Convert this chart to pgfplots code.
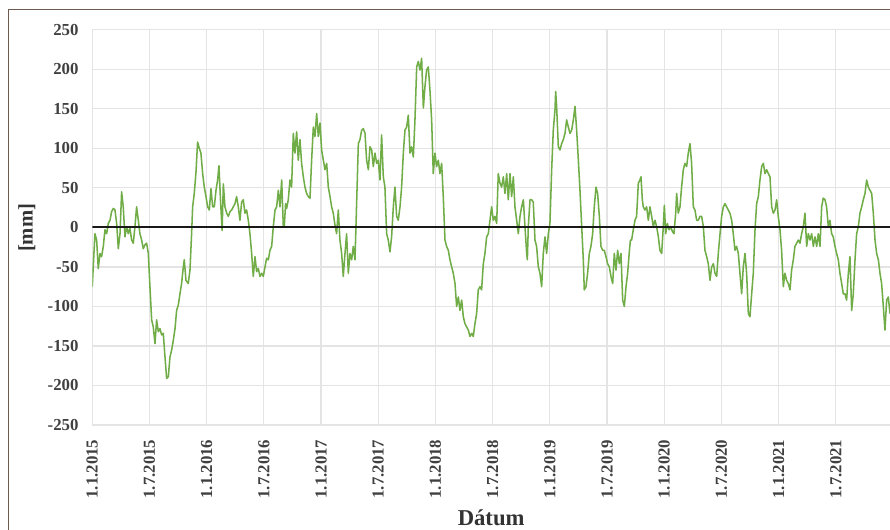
\documentclass[border=0pt]{standalone}
\usepackage{pgfplots}
\pgfplotsset{compat=1.18}
\usepackage{pgfplotstable}
\usepackage{fontspec}
\setmainfont{Liberation Serif}
\definecolor{lgreen}{HTML}{70AD47}
\definecolor{gridc}{HTML}{E4E4E4}
\definecolor{framec}{HTML}{6E5A4E}
\pgfplotstableread{
m v
0.00 -75
0.28 -8
0.46 -16
0.63 -52
0.81 -33
0.98 -37
1.16 -24
1.33 -3
1.51 -8
1.68 5
1.86 9
2.03 20
2.21 24
2.38 22
2.56 5
2.73 -27
2.91 -8
3.08 45
3.25 26
3.43 -12
3.60 1
3.78 -8
3.95 -1
4.13 -16
4.30 -20
4.48 1
4.65 26
4.83 9
5.00 -8
5.18 -16
5.35 -27
5.53 -22
5.70 -20
5.88 -33
6.05 -75
6.23 -117
6.40 -126
6.58 -147
6.75 -117
6.93 -132
7.10 -128
7.28 -136
7.45 -134
7.63 -164
7.80 -191
7.98 -189
8.15 -164
8.33 -155
8.50 -143
8.68 -128
8.85 -105
9.03 -98
9.20 -84
9.37 -71
9.55 -50
9.65 -41
9.83 -67
10.07 -71
10.25 -54
10.42 -8
10.53 26
10.70 43
10.88 70
11.05 108
11.23 100
11.40 94
11.58 68
11.75 51
11.93 39
12.10 26
12.28 22
12.45 49
12.63 26
12.80 26
12.98 47
13.15 60
13.29 78
13.45 35
13.62 -4
13.75 55
13.92 26
14.10 18
14.27 14
14.45 20
14.62 22
14.79 26
14.97 30
15.14 39
15.32 26
15.49 9
15.67 32
15.84 35
16.02 18
16.19 22
16.37 9
16.54 -8
16.72 -33
16.89 -62
17.07 -37
17.24 -56
17.42 -52
17.59 -62
17.77 -58
17.94 -62
18.12 -50
18.29 -39
18.47 -41
18.64 -29
18.82 -24
18.99 1
19.17 22
19.34 26
19.52 47
19.69 26
19.87 60
20.04 1
20.14 1
20.28 30
20.39 24
20.56 35
20.74 60
20.91 51
21.09 119
21.26 94
21.44 121
21.61 85
21.79 111
21.96 81
22.14 64
22.31 51
22.49 43
22.66 39
22.84 37
23.01 85
23.19 127
23.36 115
23.54 144
23.71 115
23.89 132
24.06 98
24.24 85
24.41 73
24.59 81
24.76 51
24.94 39
25.11 26
25.28 18
25.46 3
25.63 -8
25.81 22
25.98 -16
26.16 -33
26.33 -62
26.51 -33
26.68 -8
26.86 -58
27.03 -33
27.21 -41
27.38 -24
27.56 -41
27.73 30
27.91 106
28.08 111
28.26 123
28.43 125
28.61 119
28.78 85
28.96 73
29.13 102
29.31 98
29.48 77
29.66 94
29.83 81
30.00 85
30.18 60
30.35 117
30.53 64
30.70 51
30.88 -8
31.05 -16
31.23 -31
31.40 -12
31.58 26
31.75 51
31.93 14
32.10 9
32.28 26
32.45 51
32.63 94
32.80 123
32.98 127
33.15 142
33.33 94
33.50 102
33.68 89
33.85 136
34.03 203
34.20 210
34.38 199
34.55 214
34.73 151
34.90 178
35.07 199
35.25 203
35.42 174
35.60 136
35.77 68
35.95 94
36.12 77
36.30 85
36.47 68
36.65 81
36.82 39
37.00 -16
37.17 -24
37.35 -29
37.52 -41
37.70 -50
37.87 -58
38.05 -71
38.22 -100
38.40 -88
38.57 -105
38.75 -92
38.92 -113
39.10 -122
39.45 -130
39.62 -138
39.80 -134
39.97 -138
40.14 -122
40.32 -109
40.49 -79
40.67 -75
40.84 -79
41.02 -46
41.19 -33
41.37 -12
41.54 -8
41.72 9
41.89 26
42.07 9
42.24 14
42.42 5
42.59 68
42.77 56
42.94 51
43.12 64
43.29 43
43.47 68
43.64 35
43.82 68
43.99 39
44.17 64
44.34 26
44.52 9
44.69 -8
44.87 14
45.04 26
45.22 35
45.39 1
45.57 -33
45.64 -41
45.74 1
45.92 35
46.09 35
46.26 32
46.44 -16
46.61 -24
46.79 -50
46.96 -58
47.14 -75
47.31 -33
47.49 -12
47.66 -33
47.84 -8
48.01 5
48.19 73
48.36 123
48.54 149
48.61 172
48.71 153
48.89 102
49.06 98
49.24 106
49.41 111
49.59 119
49.76 136
49.94 127
50.11 119
50.29 123
50.46 136
50.64 153
50.81 123
50.99 85
51.16 47
51.34 1
51.51 -41
51.61 -79
51.79 -75
51.96 -58
52.14 -33
52.31 -24
52.49 -8
52.66 26
52.84 51
53.01 43
53.19 14
53.36 -24
53.54 -29
53.71 -29
53.89 -37
54.06 -46
54.24 -50
54.41 -62
54.59 -71
54.76 -33
54.94 -54
55.11 -29
55.29 -46
55.46 -33
55.64 -92
55.81 -100
55.99 -75
56.16 -58
56.34 -30
56.45 -16
56.58 -16
56.75 -3
56.93 9
57.10 14
57.28 56
57.45 60
57.56 64
57.70 35
57.80 26
57.98 22
58.15 26
58.33 9
58.50 26
58.68 14
58.85 1
59.03 9
59.20 1
59.38 -12
59.55 -29
59.73 -33
59.90 1
60.01 28
60.15 -8
60.32 5
60.50 -3
60.67 1
60.85 -5
61.02 -8
61.20 18
61.30 43
61.47 18
61.65 26
61.82 51
62.00 73
62.17 81
62.35 77
62.52 94
62.70 106
62.87 81
63.05 26
63.22 22
63.40 9
63.57 9
63.75 14
63.92 14
64.10 1
64.27 -29
64.45 -37
64.62 -46
64.80 -67
64.97 -50
65.15 -46
65.32 -58
65.50 -62
65.67 -33
65.85 -8
66.02 14
66.20 26
66.37 30
66.54 26
66.72 22
66.89 18
67.07 9
67.24 -8
67.42 -29
67.59 -24
67.77 -33
67.94 -58
68.12 -84
68.29 -50
68.47 -33
68.64 -58
68.82 -109
68.99 -113
69.17 -84
69.34 -58
69.52 -3
69.69 30
69.87 39
70.04 60
70.22 77
70.39 81
70.57 68
70.74 73
70.92 68
71.09 64
71.27 26
71.44 18
71.62 22
71.79 35
71.96 14
72.14 -3
72.31 -29
72.49 -75
72.66 -58
72.84 -67
73.01 -71
73.19 -79
73.36 -54
73.54 -41
73.71 -24
73.89 -20
74.06 -16
74.24 -20
74.41 -8
74.59 1
74.76 18
74.94 -24
75.11 -8
75.29 -16
75.46 -8
75.64 -24
75.81 -12
75.99 -24
76.16 -8
76.34 -24
76.51 26
76.68 37
76.86 35
77.03 26
77.21 1
77.38 9
77.56 -8
77.73 -12
77.91 -24
78.08 -33
78.26 -41
78.43 -58
78.61 -71
78.78 -84
78.96 -84
79.13 -92
79.31 -58
79.48 -37
79.66 -105
79.83 -84
80.01 -41
80.18 -8
80.36 1
80.53 18
80.71 26
80.88 35
81.06 43
81.23 60
81.41 51
81.58 47
81.76 43
81.93 18
82.11 -16
82.28 -33
82.46 -41
82.63 -58
82.80 -71
82.98 -100
83.15 -130
83.33 -92
83.50 -88
83.68 -109
}\datatable
\begin{document}
\begin{tikzpicture}
\path[use as bounding box] (0,0) rectangle (667.5pt,397.5pt);
\fill[white] (0,0) rectangle (667.5pt,397.5pt);
\draw[framec, line width=1.1pt] (6.2pt,-2pt) -- (6.2pt,390.2pt) -- (670pt,390.2pt);
\begin{axis}[
  at={(69.2pt,78.75pt)}, anchor=south west,
  scale only axis, width=598.3pt, height=296.4pt,
  xmin=0, xmax=83.68, ymin=-250, ymax=250,
  axis line style={draw=none},
  major tick style={draw=none},
  xtick={0,6,...,78},
  xticklabels={1.1.2015,1.7.2015,1.1.2016,1.7.2016,1.1.2017,1.7.2017,1.1.2018,1.7.2018,1.1.2019,1.7.2019,1.1.2020,1.7.2020,1.1.2021,1.7.2021},
  ytick={-250,-200,...,250},
  yticklabels={-250,-200,-150,-100,-50,0,50,100,150,200,250},
  grid=major,
  major grid style={gridc, line width=0.9pt},
  ticklabel style={font=\bfseries\fontsize{12.6}{14}\selectfont, text=black!75},
  xticklabel style={rotate=90, anchor=east},
  xticklabel shift=7.5pt,
  yticklabel shift=6.8pt,
  xlabel={Dátum},
  xlabel style={at={(axis description cs:0.5,-0.236)}, anchor=center, font=\bfseries\fontsize{17}{19}\selectfont, text=black!80},
  ylabel={[mm]},
  ylabel style={at={(axis description cs:-0.082,0.499)}, anchor=center, font=\bfseries\fontsize{15.5}{18}\selectfont, text=black!80},
  clip=true,
]
\addplot[lgreen, line width=1.15pt, line join=round] table[x=m, y=v] {\datatable};
\addplot[black!90, line width=1.5pt] coordinates {(0,0) (83.68,0)};
\end{axis}
\end{tikzpicture}
\end{document}
